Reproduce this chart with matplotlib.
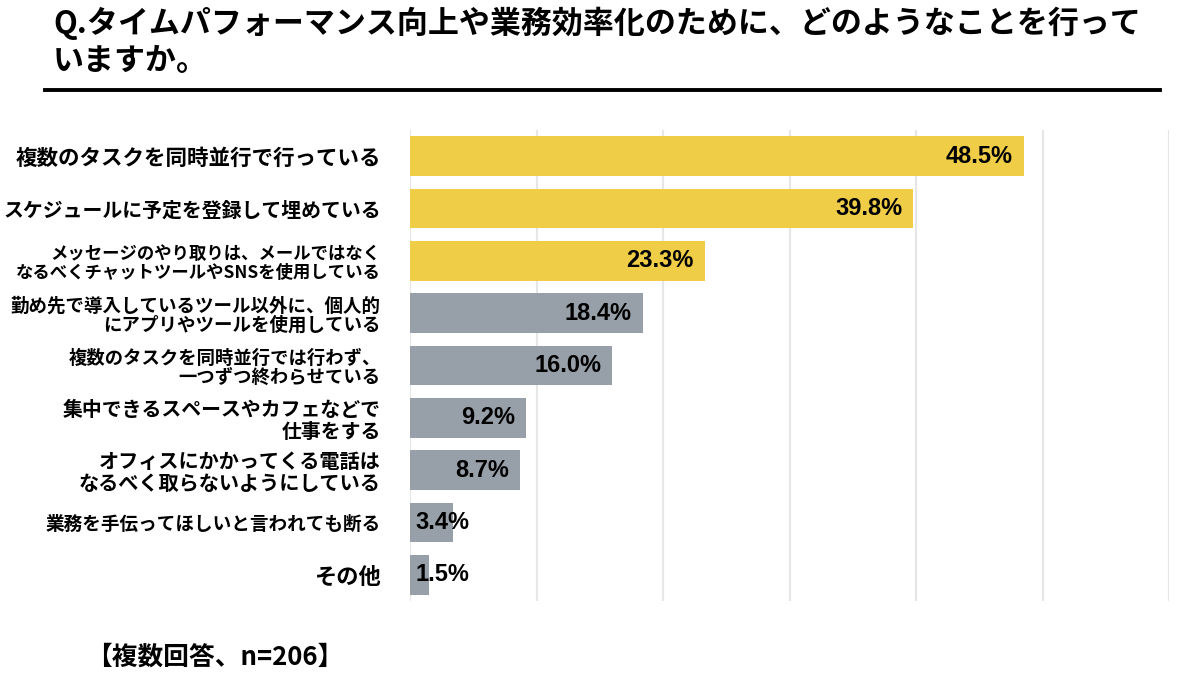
import numpy as np
import matplotlib.pyplot as plt
from matplotlib.lines import Line2D

plt.rcParams['font.family'] = ['Noto Sans CJK JP', 'DejaVu Sans']

title = 'Q.タイムパフォーマンス向上や業務効率化のために、どのようなことを行って\nいますか。'
note = '【複数回答、n=206】'

categories = [
    '複数のタスクを同時並行で行っている',
    'スケジュールに予定を登録して埋めている',
    'メッセージのやり取りは、メールではなく\nなるべくチャットツールやSNSを使用している',
    '勤め先で導入しているツール以外に、個人的\nにアプリやツールを使用している',
    '複数のタスクを同時並行では行わず、\n一つずつ終わらせている',
    '集中できるスペースやカフェなどで\n仕事をする',
    'オフィスにかかってくる電話は\nなるべく取らないようにしている',
    '業務を手伝ってほしいと言われても断る',
    'その他',
]
values = [48.5, 39.8, 23.3, 18.4, 16.0, 9.2, 8.7, 3.4, 1.5]
n_highlight = 3

# label font sizes (the source shrinks each text box separately)
label_sizes = [15.5, 14.3, 12.5, 13.3, 13.2, 14.3, 14.5, 13.4, 16]

YELLOW = '#efcd47'
GRAY = '#979fa8'
W, H = 1201, 689

fig = plt.figure(figsize=(W / 100, H / 100), dpi=100)
ax = fig.add_axes([410 / W, 1 - 601 / H, 759 / W, 471 / H])

y = np.arange(len(values))
colors = [YELLOW if i < n_highlight else GRAY for i in range(len(values))]
ax.barh(y, values, height=0.76, color=colors, zorder=2)

ax.set_xlim(0, 60)
ax.set_ylim(len(values) - 0.5, -0.5)
ax.set_xticks(np.arange(0, 61, 10))
ax.grid(axis='x', color='#e6e6e6', linewidth=1.5, zorder=0)
ax.tick_params(axis='x', length=0, labelbottom=False)
ax.tick_params(axis='y', length=0, pad=21)
for s in ax.spines.values():
    s.set_visible(False)

ax.set_yticks(y)
ax.set_yticklabels(categories, fontweight='bold', linespacing=1.05)
for lbl, fs in zip(ax.get_yticklabels(), label_sizes):
    lbl.set_fontsize(fs)

# value labels: inside the bar end, or from the bar start when the bar is short
for yi, v in zip(y, values):
    if v < 5:
        ax.annotate(f'{v:.1f}%', (0, yi), xytext=(4, 0), textcoords='offset points',
                    ha='left', va='center', fontsize=17, fontweight='bold',
                    family='Liberation Sans', zorder=3)
    else:
        ax.annotate(f'{v:.1f}%', (v, yi), xytext=(-8, 0), textcoords='offset points',
                    ha='right', va='center', fontsize=17, fontweight='bold',
                    family='Liberation Sans', zorder=3)

fig.text(53 / W, 1 - 42 / H, title, ha='left', va='center', fontsize=22.3,
         fontweight='bold', linespacing=1.22)
fig.add_artist(Line2D([45 / W, 1160 / W], [1 - 90 / H, 1 - 90 / H], color='black',
                      linewidth=2.8, transform=fig.transFigure))
fig.text(86 / W, 1 - 657 / H, note, ha='left', va='center', fontsize=18.5,
         fontweight='bold')

fig.savefig('out.png', dpi=100)
